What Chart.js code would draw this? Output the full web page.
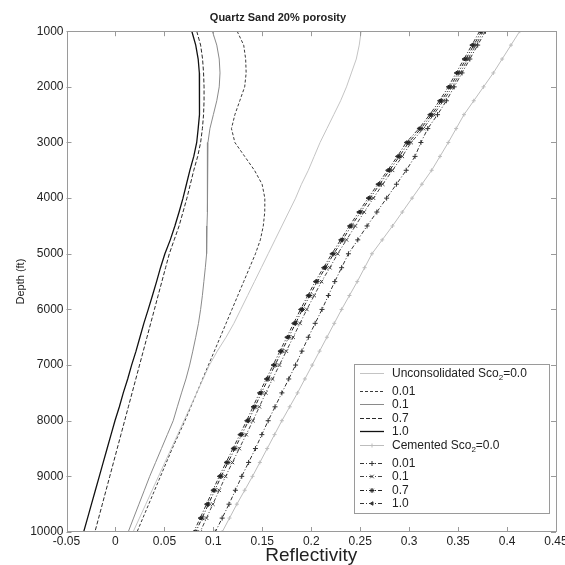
<!DOCTYPE html>
<html>
<head>
<meta charset="utf-8">
<script src="https://cdn.jsdelivr.net/npm/chart.js@4/dist/chart.umd.min.js"></script>
<style>
html,body{margin:0;padding:0;background:#fff;}
#wrap{width:565px;height:565px;}
</style>
</head>
<body>
<div id="wrap"><canvas id="c" width="565" height="565"></canvas></div>
<script>
// ---------------- DATA ----------------
const chartTitle = 'Quartz Sand 20% porosity';
const xAxisTitle = 'Reflectivity';
const yAxisTitle = 'Depth (ft)';

const xTickValues = [-0.05, 0, 0.05, 0.1, 0.15, 0.2, 0.25, 0.3, 0.35, 0.4, 0.45];
const xTickLabels = ['-0.05', '0', '0.05', '0.1', '0.15', '0.2', '0.25', '0.3', '0.35', '0.4', '0.45'];
const yTickValues = [1000, 2000, 3000, 4000, 5000, 6000, 7000, 8000, 9000, 10000];
const yTickLabels = ['1000', '2000', '3000', '4000', '5000', '6000', '7000', '8000', '9000', '10000'];

const seriesNames = [
  'Unconsolidated Sco₂=0.0', '0.01', '0.1', '0.7', '1.0',
  'Cemented Sco₂=0.0', '0.01', '0.1', '0.7', '1.0'
];

const depths = [1000, 1250, 1500, 1750, 2000, 2250, 2500, 2750, 3000, 3250, 3500, 3750,
  4000, 4250, 4500, 4750, 5000, 5250, 5500, 5750, 6000, 6250, 6500, 6750,
  7000, 7250, 7500, 7750, 8000, 8250, 8500, 8750, 9000, 9250, 9500, 9750, 10000];

// Unconsolidated
const uncSco00 = [0.251, 0.249, 0.246, 0.241, 0.236, 0.230, 0.223, 0.216, 0.209, 0.203, 0.197, 0.190,
  0.184, 0.177, 0.170, 0.163, 0.156, 0.149, 0.142, 0.135, 0.128, 0.121, 0.113, 0.104,
  0.096, 0.0895, 0.083, 0.0765, 0.070, 0.0635, 0.057, 0.0505, 0.044, 0.0375, 0.031, 0.0245, 0.018];
const uncSco001 = [0.1243, 0.131, 0.133, 0.1335, 0.132, 0.127, 0.122, 0.1185, 0.122, 0.132, 0.142, 0.1498,
  0.1526, 0.1525, 0.151, 0.148, 0.143, 0.137, 0.131, 0.125, 0.119, 0.113, 0.107, 0.101,
  0.095, 0.089, 0.083, 0.077, 0.071, 0.0645, 0.058, 0.052, 0.046, 0.040, 0.034, 0.028, 0.022];
const uncSco01 = [0.099, 0.1035, 0.106, 0.1068, 0.106, 0.1035, 0.100, 0.0965, 0.0945, 0.094, 0.094, 0.094,
  0.094, 0.0938, 0.0935, 0.0932, 0.093, 0.0918, 0.0903, 0.0888, 0.087, 0.0848, 0.082, 0.079,
  0.0758, 0.072, 0.0675, 0.0632, 0.059, 0.053, 0.047, 0.041, 0.035, 0.0295, 0.024, 0.0185, 0.013];
const uncSco07 = [0.083, 0.087, 0.089, 0.090, 0.0905, 0.0905, 0.090, 0.0888, 0.087, 0.084, 0.080, 0.0765,
  0.073, 0.069, 0.065, 0.060, 0.055, 0.0512, 0.0474, 0.0436, 0.0398, 0.036, 0.0322, 0.0284,
  0.0246, 0.0208, 0.017, 0.0132, 0.0094, 0.0056, 0.0018, -0.002, -0.0058, -0.0096, -0.0134, -0.0172, -0.021];
const uncSco10 = [0.078, 0.082, 0.0845, 0.0857, 0.086, 0.086, 0.0855, 0.0845, 0.083, 0.080, 0.076, 0.0725,
  0.069, 0.065, 0.0607, 0.056, 0.0505, 0.046, 0.042, 0.0378, 0.0335, 0.029, 0.025, 0.021,
  0.0165, 0.0125, 0.008, 0.004, -0.0005, -0.0045, -0.0085, -0.0125, -0.0165, -0.0205, -0.0245, -0.0285, -0.0325];

// Cemented
const cemSco00 = [0.413, 0.404, 0.395, 0.386, 0.376, 0.366, 0.356, 0.348, 0.340, 0.3315, 0.323, 0.313,
  0.303, 0.293, 0.283, 0.2725, 0.262, 0.2545, 0.247, 0.239, 0.231, 0.2235, 0.216, 0.2085,
  0.201, 0.1935, 0.186, 0.178, 0.170, 0.1625, 0.155, 0.1475, 0.140, 0.132, 0.124, 0.1165, 0.109];
const cemSco001 = [0.378, 0.370, 0.362, 0.354, 0.346, 0.338, 0.329, 0.319, 0.312, 0.306, 0.297, 0.287,
  0.277, 0.267, 0.257, 0.2475, 0.238, 0.231, 0.224, 0.2175, 0.211, 0.204, 0.197, 0.1905,
  0.184, 0.177, 0.170, 0.163, 0.156, 0.1495, 0.143, 0.136, 0.129, 0.1225, 0.116, 0.109, 0.102];
const cemSco01 = [0.376, 0.368, 0.360, 0.352, 0.344, 0.335, 0.325, 0.3145, 0.302, 0.293, 0.283, 0.273,
  0.2635, 0.254, 0.245, 0.236, 0.227, 0.219, 0.2105, 0.203, 0.1955, 0.1885, 0.1815, 0.1745,
  0.1675, 0.1605, 0.1535, 0.147, 0.1405, 0.1335, 0.1265, 0.1195, 0.1125, 0.106, 0.0995, 0.093, 0.0865];
const cemSco07 = [0.374, 0.366, 0.358, 0.350, 0.342, 0.333, 0.323, 0.312, 0.2995, 0.290, 0.280, 0.270,
  0.260, 0.2505, 0.241, 0.232, 0.223, 0.2145, 0.206, 0.1985, 0.191, 0.184, 0.177, 0.170,
  0.163, 0.156, 0.149, 0.1425, 0.136, 0.129, 0.122, 0.115, 0.108, 0.1015, 0.095, 0.0885, 0.082];
const cemSco10 = [0.372, 0.364, 0.356, 0.348, 0.340, 0.331, 0.321, 0.310, 0.297, 0.288, 0.278, 0.268,
  0.258, 0.2485, 0.239, 0.230, 0.221, 0.2125, 0.204, 0.1965, 0.189, 0.182, 0.175, 0.168,
  0.161, 0.154, 0.147, 0.1405, 0.134, 0.127, 0.120, 0.113, 0.106, 0.0995, 0.093, 0.0865, 0.080];

// ---------------- BUILD ----------------
const seriesValues = [uncSco00, uncSco001, uncSco01, uncSco07, uncSco10,
                      cemSco00, cemSco001, cemSco01, cemSco07, cemSco10];
const styles = [
  {c: '#c4c4c4', w: 1, dash: [], ps: 'circle', r: 0},
  {c: '#3a3a3a', w: 1, dash: [3, 2], ps: 'circle', r: 0},
  {c: '#8a8a8a', w: 1, dash: [], ps: 'circle', r: 0},
  {c: '#2a2a2a', w: 1, dash: [4, 2], ps: 'circle', r: 0},
  {c: '#111111', w: 1.3, dash: [], ps: 'circle', r: 0},
  {c: '#bdbdbd', w: 1, dash: [], ps: 'cross', r: 2},
  {c: '#333333', w: 1, dash: [4, 2, 1, 2], ps: 'cross', r: 2.5},
  {c: '#444444', w: 1, dash: [4, 2, 1, 2], ps: 'crossRot', r: 2.5},
  {c: '#222222', w: 1, dash: [4, 2, 1, 2], ps: 'star', r: 2.5},
  {c: '#333333', w: 1, dash: [4, 2, 1, 2], ps: 'triangle', r: 2, rot: 270}
];

const datasets = seriesValues.map((vals, i) => ({
  label: seriesNames[i],
  data: depths.map((d, k) => ({x: vals[k], y: d})),
  showLine: true,
  borderColor: styles[i].c,
  backgroundColor: styles[i].c,
  borderWidth: styles[i].w,
  borderDash: styles[i].dash,
  pointStyle: styles[i].ps,
  pointRadius: styles[i].r,
  pointRotation: styles[i].rot || 0,
  pointBorderWidth: 1,
  pointBorderColor: styles[i].c,
  pointBackgroundColor: styles[i].c,
  pointHoverRadius: styles[i].r,
  tension: 0
}));

const FONT = 'Arial, "Liberation Sans", Helvetica, sans-serif';
const TEXT = '#222';

const frameTicks = {
  id: 'frameTicks',
  afterDatasetsDraw(chart) {
    const {ctx, chartArea: a, scales} = chart;
    ctx.save();
    ctx.strokeStyle = '#9a9a9a';
    ctx.lineWidth = 1;
    ctx.setLineDash([]);
    ctx.strokeRect(Math.round(a.left) + 0.5, Math.round(a.top) + 0.5,
                   Math.round(a.right - a.left) - 1, Math.round(a.bottom - a.top) - 1);
    const L = 5;
    ctx.beginPath();
    xTickValues.forEach(v => {
      const x = Math.round(scales.x.getPixelForValue(v)) + 0.5;
      ctx.moveTo(x, a.bottom); ctx.lineTo(x, a.bottom - L);
      ctx.moveTo(x, a.top); ctx.lineTo(x, a.top + L);
    });
    yTickValues.forEach(v => {
      const y = Math.round(scales.y.getPixelForValue(v)) + 0.5;
      ctx.moveTo(a.left, y); ctx.lineTo(a.left + L, y);
      ctx.moveTo(a.right, y); ctx.lineTo(a.right - L, y);
    });
    ctx.stroke();
    ctx.restore();
  }
};

function drawMarker(ctx, ds, x, y) {
  if (!ds.pointRadius) return;
  ctx.fillStyle = ds.pointBackgroundColor;
  ctx.strokeStyle = ds.pointBorderColor;
  ctx.lineWidth = 1;
  ctx.setLineDash([]);
  if (Chart.helpers && Chart.helpers.drawPoint) {
    Chart.helpers.drawPoint(ctx, {pointStyle: ds.pointStyle, radius: ds.pointRadius,
      rotation: ds.pointRotation || 0, borderWidth: 1}, x, y);
  } else {
    const r = ds.pointRadius;
    ctx.beginPath();
    ctx.moveTo(x - r, y); ctx.lineTo(x + r, y);
    ctx.moveTo(x, y - r); ctx.lineTo(x, y + r);
    ctx.stroke();
  }
}

const boxLegend = {
  id: 'boxLegend',
  afterDraw(chart) {
    const ctx = chart.ctx;
    const L = 354, T = 364, R = 549, B = 513;
    ctx.save();
    ctx.fillStyle = '#fff';
    ctx.fillRect(L, T, R - L, B - T);
    ctx.strokeStyle = '#9a9a9a';
    ctx.lineWidth = 1;
    ctx.strokeRect(L + 0.5, T + 0.5, R - L, B - T);
    chart.data.datasets.forEach((ds, i) => {
      const y = Math.round(T + 9 + i * 13.6 + (i >= 1 ? 4 : 0) + (i >= 6 ? 4 : 0)) + 0.5;
      ctx.strokeStyle = ds.borderColor;
      ctx.lineWidth = ds.borderWidth;
      ctx.setLineDash(ds.borderDash || []);
      ctx.beginPath();
      ctx.moveTo(360, y); ctx.lineTo(384, y);
      ctx.stroke();
      ctx.setLineDash([]);
      drawMarker(ctx, ds, 372, y);
      // text with subscript
      ctx.fillStyle = TEXT;
      ctx.textBaseline = 'middle';
      ctx.textAlign = 'left';
      ctx.font = '12px ' + FONT;
      const parts = ds.label.split('₂');
      let x = 392;
      ctx.fillText(parts[0], x, y);
      if (parts.length > 1) {
        x += ctx.measureText(parts[0]).width;
        ctx.font = '8px ' + FONT;
        ctx.fillText('2', x, y + 4);
        x += ctx.measureText('2').width;
        ctx.font = '12px ' + FONT;
        ctx.fillText(parts[1], x, y);
      }
    });
    ctx.restore();
  }
};

new Chart(document.getElementById('c'), {
  type: 'scatter',
  data: {datasets},
  plugins: [frameTicks, boxLegend],
  options: {
    responsive: false,
    devicePixelRatio: 1,
    animation: false,
    events: [],
    layout: {padding: {left: 0, right: 9, top: 0, bottom: 0}},
    plugins: {
      legend: {display: false},
      tooltip: {enabled: false},
      title: {
        display: true,
        text: chartTitle,
        color: TEXT,
        font: {family: FONT, size: 11, weight: 'bold', lineHeight: 1.2},
        padding: {top: 11, bottom: 7}
      }
    },
    scales: {
      x: {
        type: 'linear',
        position: 'bottom',
        min: -0.05, max: 0.45,
        afterBuildTicks: s => { s.ticks = xTickValues.map(v => ({value: v})); },
        afterFit: s => { s.height = 33; s.paddingLeft = 0; s.paddingRight = 0; },
        grid: {display: false, drawTicks: false},
        border: {display: false},
        ticks: {
          autoSkip: false, maxRotation: 0, minRotation: 0,
          color: TEXT, padding: 2,
          font: {family: FONT, size: 12},
          callback: (v) => { const k = xTickValues.findIndex(t => Math.abs(t - v) < 1e-9); return k >= 0 ? xTickLabels[k] : ''; }
        },
        title: {
          display: true, text: xAxisTitle, color: TEXT,
          font: {family: FONT, size: 19, lineHeight: 1.0},
          padding: {top: 0, bottom: 0}
        }
      },
      y: {
        type: 'linear',
        position: 'left',
        reverse: true,
        min: 1000, max: 10000,
        afterBuildTicks: s => { s.ticks = yTickValues.map(v => ({value: v})); },
        afterFit: s => { s.width = 66.5; s.paddingTop = 0; s.paddingBottom = 0; },
        grid: {display: false, drawTicks: false},
        border: {display: false},
        ticks: {
          autoSkip: false, color: TEXT, padding: 3,
          font: {family: FONT, size: 12},
          callback: (v) => { const k = yTickValues.indexOf(v); return k >= 0 ? yTickLabels[k] : ''; }
        },
        title: {
          display: true, text: yAxisTitle, color: TEXT,
          font: {family: FONT, size: 11, lineHeight: 1.2},
          padding: {top: 14, bottom: 0}
        }
      }
    }
  }
});
</script>
</body>
</html>
